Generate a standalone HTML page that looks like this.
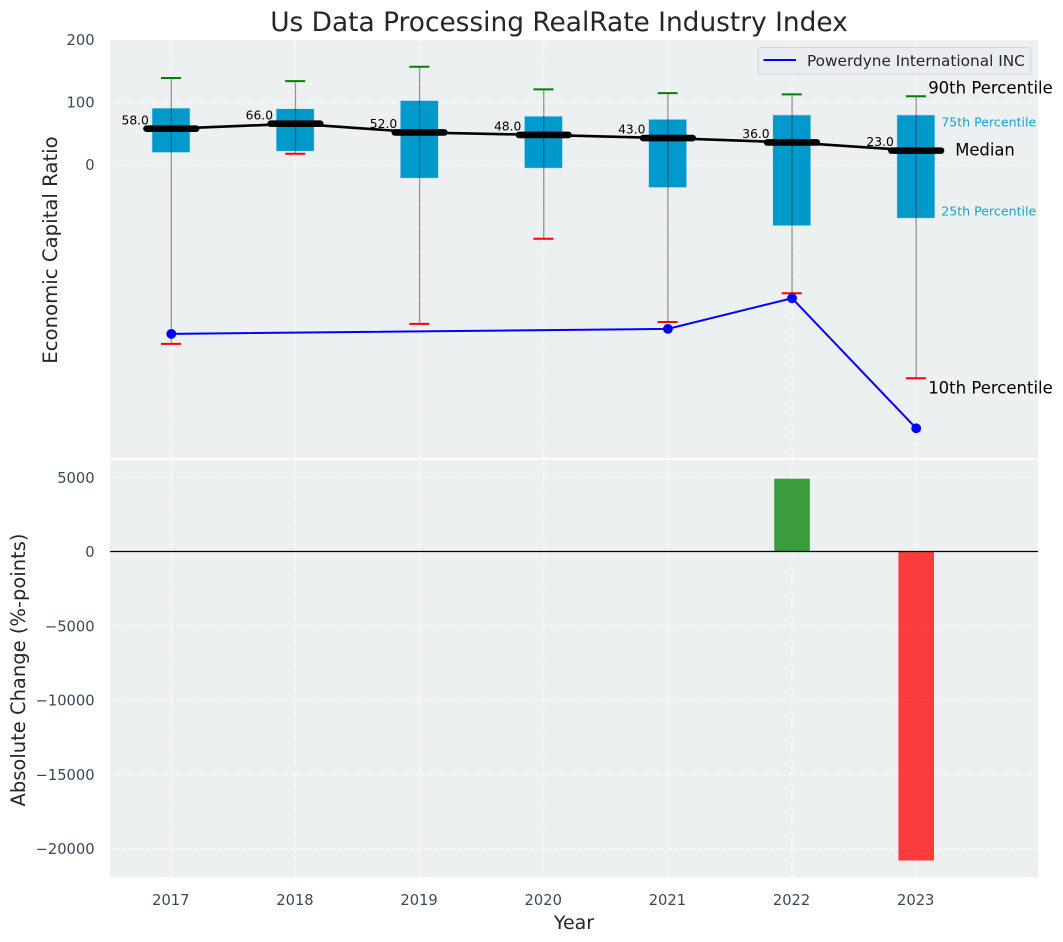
<!DOCTYPE html>
<html>
<head>
<meta charset="utf-8">
<title>Us Data Processing RealRate Industry Index</title>
<style>
html,body{margin:0;padding:0;background:#fff;}
svg{display:block;font-family:"DejaVu Sans","Liberation Sans",sans-serif;}
</style>
</head>
<body>
<svg id="chart" width="1063" height="942" viewBox="0 0 1063 942" xmlns="http://www.w3.org/2000/svg"></svg>
<script>
const years = [2017, 2018, 2019, 2020, 2021, 2022, 2023];
const p90 = [139, 134, 157, 121, 115, 113, 110];
const p75 = [91, 90, 103, 78, 73, 80, 80];
const medians = [58, 66, 52, 48, 43, 36, 23];
const p25 = [20, 22, -21, -5, -36, -97, -85];
const p10 = [-286, 18, -254, -118, -251, -205, -341];
const company = [-270, null, null, null, -262, -213, -421];
const changeYears = [2022, 2023];
const changes = [4900, -20800];
const topTicks = [200, 100, 0];
const bottomTicks = [5000, 0, -5000, -10000, -15000, -20000];
const companyName = 'Powerdyne International INC';

const svg = document.getElementById('chart');
const NS = 'http://www.w3.org/2000/svg';
const plotLeft = 110, plotRight = 1038;
const topStart = 40, topEnd = 458.3, bottomStart = 459.8, bottomEnd = 877.5;

function xScale(year) { return 171.3 + (year - 2017) * 124.15; }
function yTop(v) { return 165 - v * 0.6255; }
function yBottom(v) { return 551.5 - v * 0.014855; }

function make(tag, attrs, text) {
  const el = document.createElementNS(NS, tag);
  for (const k in attrs) el.setAttribute(k, attrs[k]);
  if (text !== undefined) el.textContent = text;
  svg.appendChild(el);
  return el;
}
function fmt(v) { return String(v).replace('-', '\u2212'); }

let el;

el = make('rect', {x: plotLeft, y: topStart, width: plotRight - plotLeft, height: topEnd - topStart, fill: '#ecf0f1'});



el = make('rect', {x: plotLeft, y: bottomStart, width: plotRight - plotLeft, height: bottomEnd - bottomStart, fill: '#ecf0f1'});



const gridStyle = {stroke: '#ffffff', 'stroke-width': 1, 'stroke-dasharray': '4 2', 'stroke-opacity': 0.9};

years.forEach(function (yr) {
  const gx = xScale(yr);
  let g = make('line', Object.assign({x1: gx, x2: gx, y1: topStart, y2: topEnd}, gridStyle));
  
  
  g = make('line', Object.assign({x1: gx, x2: gx, y1: bottomStart, y2: bottomEnd}, gridStyle));
  
  
  const t = make('text', {x: gx - 0.5, y: 905, 'text-anchor': 'middle', 'font-size': 14.7, fill: '#2c3e50', 'fill-opacity': 0.95}, String(yr));
  
  
});

topTicks.forEach(function (v) {
  const gy = yTop(v);
  const g = make('line', Object.assign({x1: plotLeft, x2: plotRight, y1: gy, y2: gy}, gridStyle));
  
  
  const t = make('text', {x: 94.6, y: gy + 5.2, 'text-anchor': 'end', 'font-size': 14.7, fill: '#2c3e50', 'fill-opacity': 0.95}, fmt(v));
  
  
});

bottomTicks.forEach(function (v) {
  const gy = yBottom(v);
  const g = make('line', Object.assign({x1: plotLeft, x2: plotRight, y1: gy, y2: gy}, gridStyle));
  
  
  const t = make('text', {x: 94.6, y: gy + 5.6, 'text-anchor': 'end', 'font-size': 14.7, fill: '#2c3e50', 'fill-opacity': 0.95}, fmt(v));
  
  
});

/* Percentile boxes */
years.forEach(function (yr, i) {
  const bx = xScale(yr) - 0.3;
  const box = make('rect', {x: bx - 19, y: yTop(p75[i]), width: 38, height: yTop(p25[i]) - yTop(p75[i]), fill: '#0099cc', stroke: '#bfe3ef', 'stroke-width': 0.6});
  
  
});

/* Whiskers and caps */
years.forEach(function (yr, i) {
  const bx = xScale(yr);
  const w = make('line', {x1: bx, x2: bx, y1: yTop(p90[i]), y2: yTop(p10[i]), stroke: '#333333', 'stroke-opacity': 0.5, 'stroke-width': 1.3});
  
  
  const hi = make('line', {x1: bx - 10.3, x2: bx + 9.7, y1: yTop(p90[i]), y2: yTop(p90[i]), stroke: '#008000', 'stroke-width': 2});
  
  
  const lo = make('line', {x1: bx - 10.3, x2: bx + 9.7, y1: yTop(p10[i]), y2: yTop(p10[i]), stroke: '#ff0000', 'stroke-width': 2});
  
  
});

/* Median line */
el = make('polyline', {
  points: years.map(function (yr, i) { return xScale(yr) + ',' + yTop(medians[i]); }).join(' '),
  fill: 'none', stroke: '#000000', 'stroke-width': 2.6
});



years.forEach(function (yr, i) {
  const bx = xScale(yr), my = yTop(medians[i]);
  const seg = make('line', {x1: bx - 24.8, x2: bx + 24.8, y1: my, y2: my, stroke: '#000000', 'stroke-width': 6.6, 'stroke-linecap': 'round'});
  
  
  const t = make('text', {x: bx - 22.4, y: my - 4.4, 'text-anchor': 'end', 'font-size': 12.3, fill: '#000000'}, medians[i].toFixed(1));
  
  
});

/* Company series */
const companyYears = years.filter(function (yr, i) { return company[i] !== null; });
const companyValues = company.filter(function (v) { return v !== null; });
el = make('polyline', {
  points: companyYears.map(function (yr, i) { return xScale(yr) + ',' + yTop(companyValues[i]); }).join(' '),
  fill: 'none', stroke: '#0000ff', 'stroke-width': 2
});


companyYears.forEach(function (yr, i) {
  const c = make('circle', {cx: xScale(yr), cy: yTop(companyValues[i]), r: 4.9, fill: '#0000ff'});
  
  
});

/* Annotations for the last box */
const annX = xScale(years[years.length - 1]);
const lastIdx = years.length - 1;
el = make('text', {x: annX + 12, y: yTop(p90[lastIdx]) - 2.5, 'font-size': 16.5, fill: '#000000'}, '90th Percentile');


el = make('text', {x: annX + 12, y: yTop(p10[lastIdx]) + 15, 'font-size': 16.5, fill: '#000000'}, '10th Percentile');


el = make('text', {x: annX + 39, y: yTop(medians[lastIdx]) + 5, 'font-size': 16.4, fill: '#000000'}, 'Median');


el = make('text', {x: annX + 25, y: yTop(p75[lastIdx]) + 11.5, 'font-size': 12.6, fill: '#0099cc', 'fill-opacity': 0.9}, '75th Percentile');


el = make('text', {x: annX + 25, y: yTop(p25[lastIdx]) - 2.5, 'font-size': 12.6, fill: '#0099cc', 'fill-opacity': 0.9}, '25th Percentile');



/* Legend */
el = make('rect', {x: 758, y: 47.5, width: 273, height: 26.5, rx: 3, fill: '#e9ecf0', 'fill-opacity': 0.95, stroke: '#d4d6da', 'stroke-width': 1});


el = make('line', {x1: 763.5, x2: 796, y1: 60, y2: 60, stroke: '#0000ff', 'stroke-width': 2});


el = make('text', {x: 807, y: 66, 'font-size': 15.3, fill: '#262626'}, companyName);



/* Change bars */
changeYears.forEach(function (yr, i) {
  const v = changes[i];
  const top = yBottom(Math.max(v, 0)), bot = yBottom(Math.min(v, 0));
  const b = make('rect', {x: xScale(yr) - 17.8, y: top, width: 35.6, height: bot - top, fill: v >= 0 ? '#008000' : '#ff0000', 'fill-opacity': 0.75});
  
  
});
el = make('line', {x1: plotLeft, x2: plotRight, y1: yBottom(0), y2: yBottom(0), stroke: '#000000', 'stroke-width': 1.2});



/* Titles */
el = make('text', {x: 559, y: 31, 'text-anchor': 'middle', 'font-size': 26.4, fill: '#262626'}, 'Us Data Processing RealRate Industry Index');


el = make('text', {x: 574, y: 929, 'text-anchor': 'middle', 'font-size': 19, fill: '#262626'}, 'Year');


el = make('text', {'text-anchor': 'middle', 'font-size': 19.7, fill: '#262626', transform: 'translate(57,250) rotate(-90)'}, 'Economic Capital Ratio');


el = make('text', {'text-anchor': 'middle', 'font-size': 19.5, fill: '#262626', transform: 'translate(25,670) rotate(-90)'}, 'Absolute Change (%-points)');


</script>
</body>
</html>
